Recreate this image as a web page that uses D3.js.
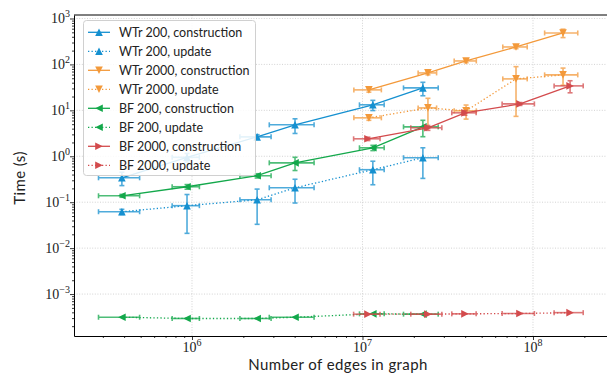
<!DOCTYPE html>
<html>
<head>
<meta charset="utf-8">
<script src="https://cdn.jsdelivr.net/npm/d3@7"></script>
<style>
  html, body { margin: 0; padding: 0; background: #fff; }
  svg { display: block; }
  .lbl { font-family: Lato, "Open Sans", sans-serif; fill: #222; }
  .tick-lbl { font-family: "Liberation Serif", "DejaVu Serif", serif; fill: #222; }
</style>
</head>
<body>
<svg id="chart" width="607" height="376"></svg>
<script>
// ---- data -------------------------------------------------------------
// graph sizes (edges) for the 200-node-family runs and their spread
const edges200 = [3.88e5, 9.35e5, 2.41e6, 4.02e6, 1.15e7, 2.26e7];
const edges200Err = [1.05e5, 1.7e5, 0.5e6, 1.18e6, 1.9e6, 5.2e6];
// graph sizes for the 2000 runs
const edgesWTr2000 = [1.09e7, 2.42e7, 4.05e7, 7.95e7, 1.5e8];
const edgesWTr2000Err = [2.0e6, 3.0e6, 6.0e6, 1.3e7, 3.3e7];
const edgesBF2000 = [1.077e7, 2.42e7, 3.99e7, 8.39e7, 1.65e8];
const edgesBF2000Err = [1.9e6, 5.0e6, 6.5e6, 1.8e7, 3.2e7];

// timings in seconds with standard deviation
const wtr200Construction = [0.34, 0.95, 2.65, 4.84, 13.2, 30.8];
const wtr200ConstructionErr = [0.11, 0.2, 0.3, 1.7, 3.3, 10];
const wtr200Update = [0.062, 0.084, 0.113, 0.206, 0.51, 0.93];
const wtr200UpdateErr = [0.008, 0.063, 0.08, 0.11, 0.27, 0.6];
const wtr2000Construction = [27.9, 65.3, 119, 240, 484];
const wtr2000ConstructionErr = [3, 6, 10, 20, 100];
const wtr2000Update = [6.87, 11.3, 9.75, 48.4, 59.2];
const wtr2000UpdateErr = [0.8, 7, 3.3, 41, 24];
const bf200Construction = [0.138, 0.217, 0.377, 0.72, 1.53, 4.37];
const bf200ConstructionErr = [0.01, 0.025, 0.04, 0.23, 0.2, 1.7];
const bf200Update = [3.13e-4, 2.94e-4, 2.94e-4, 3.13e-4, 3.71e-4, 3.65e-4];
const bf200UpdateErr = [0, 0, 0, 0, 0, 0];
const bf2000Construction = [2.40, 4.17, 8.83, 13.8, 34.1];
const bf2000ConstructionErr = [0.2, 0.5, 1.0, 1.0, 10];
const bf2000Update = [3.65e-4, 3.65e-4, 3.71e-4, 3.77e-4, 3.94e-4];
const bf2000UpdateErr = [0, 0, 0, 0, 0];

const seriesNames = [
  "WTr 200, construction", "WTr 200, update",
  "WTr 2000, construction", "WTr 2000, update",
  "BF 200, construction", "BF 200, update",
  "BF 2000, construction", "BF 2000, update"
];
const xTickValues = [1e6, 1e7, 1e8];
const yTickValues = [1e-3, 1e-2, 1e-1, 1e0, 1e1, 1e2, 1e3];

// ---- series assembly --------------------------------------------------
const colors = { blue: "#1590d0", orange: "#f3993a", green: "#13a84b", red: "#d34b4d" };
function build(name, xs, xe, ys, ye, color, marker, dotted) {
  return { name, color, marker, dotted,
    pts: xs.map((x, i) => ({ x, xe: xe[i], y: ys[i], ye: ye[i] })) };
}
const series = [
  build(seriesNames[0], edges200, edges200Err, wtr200Construction, wtr200ConstructionErr, colors.blue, "up", false),
  build(seriesNames[1], edges200, edges200Err, wtr200Update, wtr200UpdateErr, colors.blue, "up", true),
  build(seriesNames[2], edgesWTr2000, edgesWTr2000Err, wtr2000Construction, wtr2000ConstructionErr, colors.orange, "down", false),
  build(seriesNames[3], edgesWTr2000, edgesWTr2000Err, wtr2000Update, wtr2000UpdateErr, colors.orange, "down", true),
  build(seriesNames[4], edges200, edges200Err, bf200Construction, bf200ConstructionErr, colors.green, "left", false),
  build(seriesNames[5], edges200, edges200Err, bf200Update, bf200UpdateErr, colors.green, "left", true),
  build(seriesNames[6], edgesBF2000, edgesBF2000Err, bf2000Construction, bf2000ConstructionErr, colors.red, "right", false),
  build(seriesNames[7], edgesBF2000, edgesBF2000Err, bf2000Update, bf2000UpdateErr, colors.red, "right", true)
];

// ---- layout -----------------------------------------------------------
// the axes box runs past the right edge of the page
const plot = { left: 74, right: 610, top: 15, bottom: 336 };
const svg = d3.select("#chart");

const x = d3.scaleLog()
  .domain([Math.pow(10, 5.308), Math.pow(10, 8.4516)])
  .range([plot.left, plot.right]);
const y = d3.scaleLog()
  .domain([Math.pow(10, -3.913), Math.pow(10, 3.076)])
  .range([plot.bottom, plot.top]);

function minors(domain) {
  const out = [];
  const lo = Math.floor(Math.log10(domain[0])), hi = Math.ceil(Math.log10(domain[1]));
  for (let e = lo; e <= hi; e++) for (let m = 2; m <= 9; m++) {
    const v = m * Math.pow(10, e);
    if (v >= domain[0] && v <= domain[1]) out.push(v);
  }
  return out;
}

// grid
const grid = svg.append("g");
grid.selectAll("line.gx").data(xTickValues).join("line")
  .attr("x1", d => x(d)).attr("x2", d => x(d))
  .attr("y1", plot.top).attr("y2", plot.bottom)
  .attr("stroke", "#c8c8c8").attr("stroke-width", 0.8).attr("stroke-dasharray", "1,1.6");
grid.selectAll("line.gy").data(yTickValues).join("line")
  .attr("x1", plot.left).attr("x2", plot.right)
  .attr("y1", d => y(d)).attr("y2", d => y(d))
  .attr("stroke", "#c8c8c8").attr("stroke-width", 0.8).attr("stroke-dasharray", "1,1.6");

// axes
const xAxisG = svg.append("g").attr("transform", `translate(0,${plot.bottom})`);
xAxisG.call(d3.axisBottom(x).tickValues(xTickValues).tickFormat("").tickSize(4).tickSizeOuter(0));
xAxisG.append("g").call(d3.axisBottom(x).tickValues(minors(x.domain())).tickFormat("").tickSize(2).tickSizeOuter(0))
  .select(".domain").remove();
const yAxisG = svg.append("g").attr("transform", `translate(${plot.left},0)`);
yAxisG.call(d3.axisLeft(y).tickValues(yTickValues).tickFormat("").tickSize(4).tickSizeOuter(0));
yAxisG.append("g").call(d3.axisLeft(y).tickValues(minors(y.domain())).tickFormat("").tickSize(2).tickSizeOuter(0))
  .select(".domain").remove();
svg.selectAll(".domain").attr("stroke", "#000").attr("stroke-width", 1);
svg.selectAll(".tick line").attr("stroke", "#000").attr("stroke-width", 0.8);
// top spine
svg.append("line").attr("x1", plot.left).attr("x2", plot.right).attr("y1", plot.top).attr("y2", plot.top)
  .attr("stroke", "#000").attr("stroke-width", 1);

// power-of-ten tick labels
function powLabel(sel, v) {
  const e = Math.round(Math.log10(v));
  sel.append("tspan").text("10");
  sel.append("tspan").attr("dy", -6).attr("font-size", 10).text(e < 0 ? "\u2212" + (-e) : String(e));
}
xTickValues.forEach(v => {
  const t = svg.append("text").attr("class", "tick-lbl").attr("font-size", 14)
    .attr("x", x(v)).attr("y", 352).attr("text-anchor", "middle");
  powLabel(t, v);
});
yTickValues.forEach(v => {
  const t = svg.append("text").attr("class", "tick-lbl").attr("font-size", 14)
    .attr("x", 70).attr("y", y(v) + 5).attr("text-anchor", "end");
  powLabel(t, v);
});

// axis titles
svg.append("text").attr("class", "lbl").attr("font-size", 15).attr("letter-spacing", 0.4)
  .attr("x", 338).attr("y", 370).attr("text-anchor", "middle")
  .text("Number of edges in graph");
svg.append("text").attr("class", "lbl").attr("font-size", 15).attr("letter-spacing", 0.4)
  .attr("transform", `translate(25,178) rotate(-90)`)
  .attr("text-anchor", "middle").text("Time (s)");

// markers
function markerPath(kind, r) {
  switch (kind) {
    case "up": return `M0,${-r}L${r},${r}L${-r},${r}Z`;
    case "down": return `M0,${r}L${r},${-r}L${-r},${-r}Z`;
    case "left": return `M${-r},0L${r},${-r}L${r},${r}Z`;
    default: return `M${r},0L${-r},${-r}L${-r},${r}Z`;
  }
}

svg.append("clipPath").attr("id", "plotclip").append("rect")
  .attr("x", plot.left).attr("y", plot.top)
  .attr("width", plot.right - plot.left).attr("height", plot.bottom - plot.top);
const dataG = svg.append("g").attr("clip-path", "url(#plotclip)");
const line = d3.line().x(d => x(d.x)).y(d => y(d.y));
const cap = 2.5;

series.forEach(s => {
  const g = dataG.append("g");
  // error bars
  const eb = g.append("g").attr("stroke", s.color).attr("stroke-width", 1.6).attr("opacity", 0.75);
  s.pts.forEach(p => {
    const cx = x(p.x), cy = y(p.y);
    const x0 = x(p.x - p.xe), x1 = x(p.x + p.xe);
    eb.append("line").attr("x1", x0).attr("x2", x1).attr("y1", cy).attr("y2", cy);
    eb.append("line").attr("x1", x0).attr("x2", x0).attr("y1", cy - cap).attr("y2", cy + cap);
    eb.append("line").attr("x1", x1).attr("x2", x1).attr("y1", cy - cap).attr("y2", cy + cap);
    if (p.ye > 0) {
      const lo = Math.max(p.y - p.ye, y.domain()[0]);
      const y0 = y(lo), y1 = y(p.y + p.ye);
      eb.append("line").attr("x1", cx).attr("x2", cx).attr("y1", y0).attr("y2", y1);
      eb.append("line").attr("x1", cx - cap).attr("x2", cx + cap).attr("y1", y0).attr("y2", y0);
      eb.append("line").attr("x1", cx - cap).attr("x2", cx + cap).attr("y1", y1).attr("y2", y1);
    }
  });
  // connecting line
  g.append("path").datum(s.pts).attr("d", line)
    .attr("fill", "none").attr("stroke", s.color).attr("stroke-width", 1.3)
    .attr("stroke-dasharray", s.dotted ? "1.3,2.2" : null);
  // point markers
  g.selectAll("path.m").data(s.pts).join("path")
    .attr("d", markerPath(s.marker, 3.8))
    .attr("transform", d => `translate(${x(d.x)},${y(d.y)})`)
    .attr("fill", s.color);
});

// legend
const leg = svg.append("g");
leg.append("rect").attr("x", 83.5).attr("y", 20.5).attr("width", 172).attr("height", 155)
  .attr("rx", 3).attr("fill", "#fff").attr("fill-opacity", 0.85)
  .attr("stroke", "#d0d0d0").attr("stroke-width", 1);
series.forEach((s, i) => {
  const yy = 32.3 + i * 19;
  leg.append("line").attr("x1", 88).attr("x2", 110).attr("y1", yy).attr("y2", yy)
    .attr("stroke", s.color).attr("stroke-width", 1.3)
    .attr("stroke-dasharray", s.dotted ? "1.3,2.2" : null);
  leg.append("path").attr("d", markerPath(s.marker, 3.8))
    .attr("transform", `translate(99,${yy})`).attr("fill", s.color);
  leg.append("text").attr("class", "lbl").attr("font-size", 12.5)
    .attr("x", 119).attr("y", yy + 4.5).text(s.name);
});
</script>
</body>
</html>
